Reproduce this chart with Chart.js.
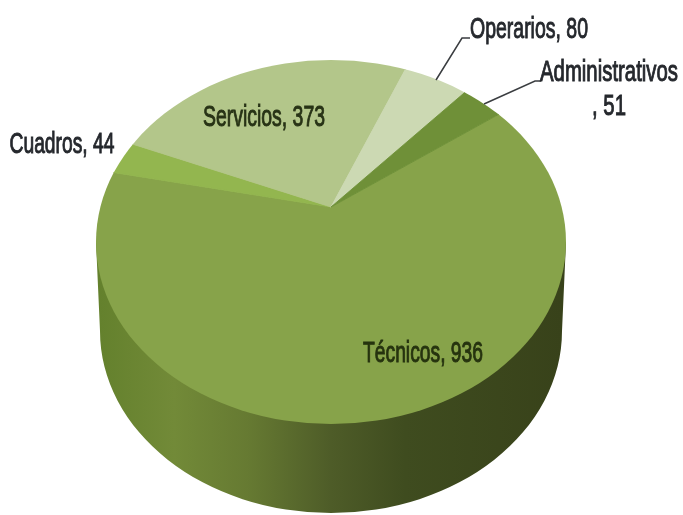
<!DOCTYPE html>
<html>
<head>
<meta charset="utf-8">
<title>Personal</title>
<script src="https://cdn.jsdelivr.net/npm/chart.js@4"></script>
<style>
    html, body { margin: 0; padding: 0; background: #fff; }
    canvas { display: block; }
</style>
</head>
<body>
<canvas id="pieView" width="683" height="515"></canvas>
<script>
const categories = ["Técnicos", "Cuadros", "Servicios", "Operarios", "Administrativos"];
const values = [936, 44, 373, 80, 51];
const sliceColors = ["#87a34a", "#93b64f", "#b3c68a", "#ccd9b3", "#6f9038"];

// label anchors: centre x, baseline y, and the width the text is condensed to
const labelSpots = [
    { x: 423, y: 362, width: 120, color: "#26330f" },
    { x: 62, y: 153, width: 105, color: "#25282d" },
    { x: 264, y: 126, width: 122, color: "#283316" },
    { x: 529, y: 38, width: 118, color: "#25282d" },
    { x: 609, y: 81, width: 138, color: "#25282d", wrap: true },
];
const leaders = [
    null,
    null,
    null,
    [[436, 80], [462, 38], [470, 38]],
    [[484, 104], [535, 81], [541, 81]],
];

// the slices fan out from an apex above the centre of the rim, as in a tilted view
const apex = { x: 331, y: 207 };
const squash = 0.775;
const rim = { x: 331, y: 242, rx: 235, ry: 182 };
const base = { x: 331, y: 331, rx: 231, ry: 182 };

function drawLabel(ctx, text, x, y, width) {
    const natural = ctx.measureText(text).width;
    ctx.save();
    ctx.translate(x, y);
    ctx.scale(width / natural, 1);
    ctx.fillText(text, 0, 0);
    ctx.strokeText(text, 0, 0);
    ctx.restore();
}

const tiltPlugin = {
    id: "tilt",
    beforeDatasetsDraw(chart) {
        const ctx = chart.ctx;
        const first = chart.getDatasetMeta(0).data[0];

        // outer wall of the cylinder
        const wall = ctx.createLinearGradient(base.x - base.rx, 0, base.x + base.rx, 0);
        wall.addColorStop(0, "#64812d");
        wall.addColorStop(0.16, "#728a38");
        wall.addColorStop(0.32, "#667a32");
        wall.addColorStop(0.5, "#4e5c28");
        wall.addColorStop(0.66, "#3f4c1f");
        wall.addColorStop(1, "#38421a");
        ctx.save();
        ctx.beginPath();
        ctx.moveTo(rim.x - rim.rx, rim.y);
        ctx.lineTo(base.x - base.rx, base.y);
        ctx.ellipse(base.x, base.y, base.rx, base.ry, 0, Math.PI, 0, true);
        ctx.lineTo(rim.x + rim.rx, rim.y);
        ctx.closePath();
        ctx.fillStyle = wall;
        ctx.fill();
        ctx.restore();

        // top face: slices are oversized and cut back to the rim
        ctx.save();
        ctx.beginPath();
        ctx.ellipse(rim.x, rim.y, rim.rx, rim.ry, 0, 0, Math.PI * 2);
        ctx.clip();
        ctx.translate(apex.x, apex.y);
        ctx.scale(1, squash);
        ctx.translate(-first.x, -first.y);
    },
    afterDatasetsDraw(chart) {
        chart.ctx.restore();
    },
    afterDraw(chart) {
        const ctx = chart.ctx;
        ctx.save();
        ctx.strokeStyle = "#3a3d40";
        ctx.lineWidth = 1.5;
        leaders.forEach((points) => {
            if (!points) return;
            ctx.beginPath();
            points.forEach(([x, y], i) => (i ? ctx.lineTo(x, y) : ctx.moveTo(x, y)));
            ctx.stroke();
        });
        ctx.font = '30px "Liberation Sans", sans-serif';
        ctx.textAlign = "center";
        ctx.lineWidth = 1;
        categories.forEach((name, i) => {
            const spot = labelSpots[i];
            ctx.fillStyle = spot.color;
            ctx.strokeStyle = spot.color;
            if (spot.wrap) {
                drawLabel(ctx, name, spot.x, spot.y, spot.width);
                const tail = `, ${values[i]}`;
                drawLabel(ctx, tail, spot.x, spot.y + 34, (spot.width * ctx.measureText(tail).width) / ctx.measureText(name).width);
            } else {
                drawLabel(ctx, `${name}, ${values[i]}`, spot.x, spot.y, spot.width);
            }
        });
        ctx.restore();
    },
};

const ctx = document.getElementById("pieView");
const pieChart = new Chart(ctx, {
    type: "pie",
    data: {
        labels: categories,
        datasets: [
            {
                data: values,
                backgroundColor: sliceColors,
                borderColor: sliceColors,
                borderWidth: 1,
                clip: false,
            },
        ],
    },
    options: {
        responsive: false,
        animation: false,
        rotation: 54.5,
        radius: 420,
        plugins: {
            legend: { display: false },
            tooltip: { enabled: false },
        },
    },
    plugins: [tiltPlugin],
});
</script>
</body>
</html>
